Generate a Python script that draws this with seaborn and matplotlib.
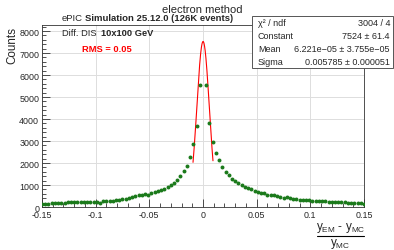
import numpy as np
import pandas as pd
import matplotlib
matplotlib.use('Agg')
import matplotlib.pyplot as plt
import seaborn as sns
from matplotlib.patches import Rectangle
from matplotlib.lines import Line2D
from matplotlib.ticker import MultipleLocator

# bin centres (step 0.003) and counts
bin_width = 0.003
left_counts = [140, 150, 155, 160, 165, 175, 180, 190, 225, 215,
               230, 225, 230, 240, 250, 245, 250, 240, 180, 260,
               290, 290, 290, 320, 330, 365, 365, 410, 440, 490,
               560, 560, 590, 560, 640, 670, 740, 790, 820, 895,
               1010, 1080, 1230, 1420, 1640, 1870, 2280, 2860, 3670, 5560]
right_counts = [5560, 3800, 2940, 2450, 2140, 1800, 1600, 1450, 1270, 1170,
                1080, 1010, 890, 860, 820, 710, 670, 620, 620, 560,
                545, 530, 490, 450, 420, 440, 420, 380, 365, 340,
                320, 330, 315, 290, 285, 270, 265, 260, 245, 240,
                225, 215, 210, 205, 190, 195, 180, 170, 160, 150]
left_x = np.arange(-50, 0) * bin_width
right_x = np.arange(1, 51) * bin_width

# gaussian fit result
fit_const = 7524
fit_mean = 6.221e-05
fit_sigma = 0.005785
fit_range = (-0.0093, 0.0093)

df = pd.DataFrame({'x': np.concatenate([left_x, right_x]),
                   'counts': left_counts + right_counts})
xf = np.linspace(fit_range[0], fit_range[1], 200)
fit_df = pd.DataFrame({'x': xf,
                       'y': fit_const * np.exp(-0.5 * ((xf - fit_mean) / fit_sigma) ** 2)})

sns.set_theme(style='white')
plt.rcParams['font.family'] = ['Liberation Sans', 'DejaVu Sans']
plt.rcParams['mathtext.fontset'] = 'custom'
plt.rcParams['mathtext.rm'] = 'Liberation Sans'
plt.rcParams['mathtext.it'] = 'Liberation Sans'

W, H = 394, 251
fig = plt.figure(figsize=(W / 100, H / 100), dpi=100)
ax = fig.add_axes([42 / W, 1 - 208 / H, (364 - 42) / W, (208 - 26) / H])

ax.grid(True, color='#dddddd', lw=0.7)
ax.set_axisbelow(True)
sns.lineplot(data=fit_df, x='x', y='y', color='#ff0000', lw=0.8, ax=ax, zorder=2)
sns.scatterplot(data=df, x='x', y='counts', color='#1b7a1b', s=8, linewidth=0,
                ax=ax, zorder=3)

ax.set_xlim(-0.15, 0.15)
ax.set_ylim(0, 8273)
ax.set_xlabel('')
ax.set_ylabel('')
ax.xaxis.set_minor_locator(MultipleLocator(0.01))
ax.yaxis.set_major_locator(MultipleLocator(1000))
ax.yaxis.set_minor_locator(MultipleLocator(200))
ax.set_xticks([-0.15, -0.1, -0.05, 0, 0.05, 0.1, 0.15])
ax.set_xticklabels(['-0.15', '-0.1', '-0.05', '0', '0.05', '0.1', '0.15'])
ax.tick_params(which='major', direction='in', length=6, width=0.6, color='#333333',
               labelsize=6.4, pad=2, bottom=True, left=True)
ax.tick_params(which='minor', direction='in', length=3, width=0.6, color='#333333',
               bottom=True, left=True)
for s in ax.spines.values():
    s.set_color('#333333')
    s.set_linewidth(0.6)

# titles and labels
fig.text(202 / W, 1 - 10 / H, 'electron method', ha='center', va='center', fontsize=8)
fig.text(62 / W, 1 - 18.5 / H, 'ePIC', ha='left', va='center', fontsize=6.8)
fig.text(85 / W, 1 - 18.5 / H, 'Simulation 25.12.0 (126K events)', ha='left', va='center',
         fontsize=6.8, fontweight='bold')
fig.text(12 / W, 1 - 27 / H, 'Counts', rotation=90, ha='center', va='top', fontsize=8.4)
fig.text(62 / W, 1 - 33.5 / H, 'Diff. DIS', ha='left', va='center', fontsize=6.7)
fig.text(101 / W, 1 - 33.5 / H, '10x100 GeV', ha='left', va='center', fontsize=6.7,
         fontweight='bold')
fig.text(82 / W, 1 - 49 / H, 'RMS = 0.05', ha='left', va='center', fontsize=6.7,
         fontweight='bold', color='#ff0000')

# x axis title as a fraction
fig.text(340.5 / W, 1 - 228 / H, r'y$_{\mathrm{EM}}$ - y$_{\mathrm{MC}}$',
         ha='center', va='center', fontsize=8.5)
fig.lines.append(Line2D([317 / W, 364 / W], [1 - 236.5 / H, 1 - 236.5 / H],
                        transform=fig.transFigure, color='black', lw=0.8))
fig.text(340.5 / W, 1 - 244 / H, r'y$_{\mathrm{MC}}$',
         ha='center', va='center', fontsize=8.5)

# stats box
fig.patches.append(Rectangle((252 / W, 1 - 69 / H), (393 - 252) / W, (69 - 17) / H,
                             transform=fig.transFigure, facecolor='white',
                             edgecolor='#555555', lw=0.7, zorder=5))
stat_names = ['χ² / ndf', 'Constant', 'Mean', 'Sigma']
stat_vals = ['3004 / 4', '7524 ± 61.4', '6.221e−05 ± 3.755e−05', '0.005785 ± 0.000051']
for i, (n, v) in enumerate(zip(stat_names, stat_vals)):
    yy = 1 - (23.5 + i * 13.1) / H
    fig.text(258 / W, yy, n, ha='left', va='center', fontsize=6.5, zorder=6)
    fig.text(390 / W, yy, v, ha='right', va='center', fontsize=6.5, zorder=6)

fig.savefig('out.png', dpi=100)
